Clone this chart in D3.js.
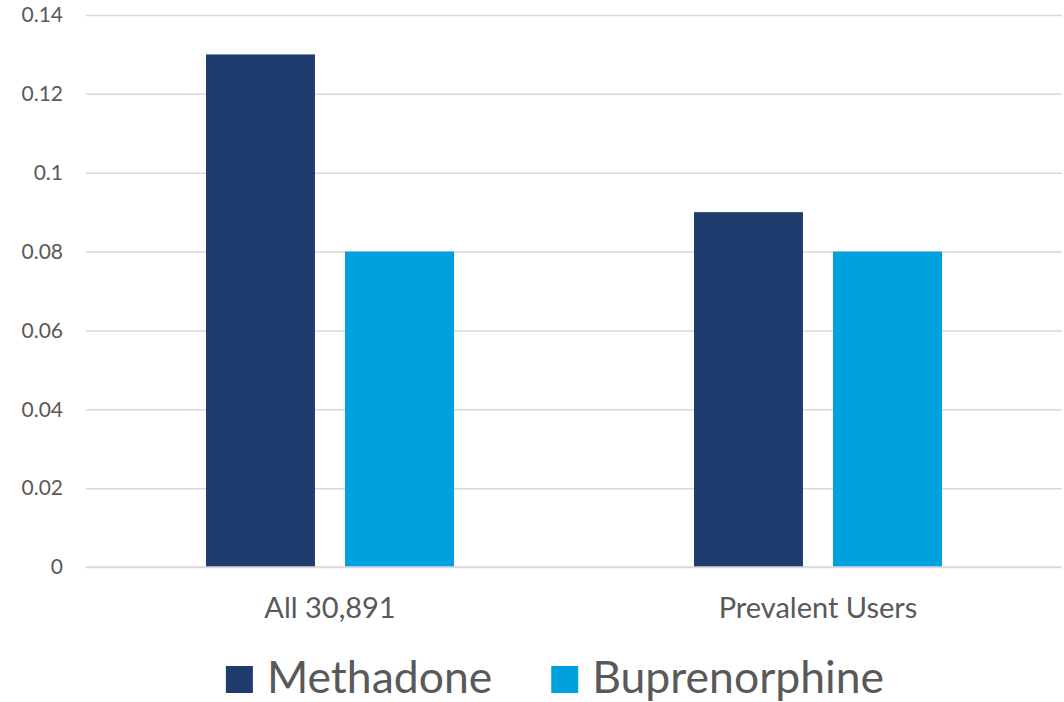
<!DOCTYPE html>
<html>
<head>
<meta charset="utf-8">
<script src="https://cdn.jsdelivr.net/npm/d3@7"></script>
<style>
  html, body { margin: 0; padding: 0; background: #fff; }
  svg { display: block; font-family: Lato, "Open Sans", sans-serif; }
</style>
</head>
<body>
<svg id="chart" width="1064" height="702"></svg>
<script>
// Chart data
const categories = ["All 30,891", "Prevalent Users"];
const seriesNames = ["Methadone", "Buprenorphine"];
const methadone = [0.13, 0.09];
const buprenorphine = [0.08, 0.08];
const yTicks = [0, 0.02, 0.04, 0.06, 0.08, 0.1, 0.12, 0.14];
const colors = ["#1e3d6e", "#00a1df"];

const seriesValues = [methadone, buprenorphine];
const rows = categories.map((c, i) => ({
  category: c,
  values: seriesNames.map((s, j) => ({ series: s, value: seriesValues[j][i], color: colors[j] }))
}));

const svg = d3.select("#chart");
const plot = { left: 86, right: 1062, top: 15, bottom: 567 };

const x = d3.scaleBand().domain(categories).range([plot.left, plot.right]).padding(0);
const xInner = d3.scaleBand().domain(seriesNames)
  .range([0, x.bandwidth()]).paddingInner(0.216).paddingOuter(0.863);
const y = d3.scaleLinear().domain([0, 0.14]).range([plot.bottom, plot.top]);

// Horizontal gridlines and value labels
const yAxis = d3.axisLeft(y).tickValues(yTicks)
  .tickSize(-(plot.right - plot.left))
  .tickPadding(23)
  .tickFormat(d => d === 0 ? "0" : String(+d.toFixed(2)));
const gy = svg.append("g").attr("transform", `translate(${plot.left},0)`).call(yAxis)
  .attr("font-family", null);
gy.select(".domain").remove();
gy.selectAll(".tick line").attr("stroke", "#d9d9d9").attr("stroke-width", 1.5);
gy.selectAll(".tick text").attr("fill", "#595959").attr("font-size", 21);

// Bars
const groups = svg.append("g").selectAll("g").data(rows).join("g")
  .attr("transform", d => `translate(${x(d.category)},0)`);
groups.selectAll("rect").data(d => d.values).join("rect")
  .attr("x", d => xInner(d.series))
  .attr("width", xInner.bandwidth())
  .attr("y", d => y(d.value))
  .attr("height", d => y(0) - y(d.value))
  .attr("fill", d => d.color);

// Baseline redrawn on top of the bars
svg.append("line")
  .attr("x1", plot.left).attr("x2", plot.right)
  .attr("y1", y(0)).attr("y2", y(0))
  .attr("stroke", "#d9d9d9").attr("stroke-width", 1.5);

// Category labels
const xAxis = d3.axisBottom(x).tickSize(0).tickPadding(0);
const gx = svg.append("g").attr("transform", `translate(0,${plot.bottom})`).call(xAxis)
  .attr("font-family", null);
gx.select(".domain").remove();
gx.selectAll(".tick text")
  .attr("fill", "#595959").attr("font-size", 29)
  .attr("dy", null).attr("y", 51);

// Legend
const legend = svg.append("g");
const items = legend.selectAll("g").data(seriesNames).join("g");
items.append("rect").attr("width", 27).attr("height", 27).attr("y", 666)
  .attr("fill", (d, i) => colors[i]);
items.append("text").text(d => d).attr("x", 41).attr("y", 693)
  .attr("fill", "#595959").attr("font-size", 44.5);
const widths = [];
items.each(function () {
  widths.push(41 + this.querySelector("text").getComputedTextLength());
});
const gap = 59;
const total = d3.sum(widths) + gap * (widths.length - 1);
let start = 555 - total / 2;
items.attr("transform", (d, i) => {
  const t = `translate(${start},0)`;
  start += widths[i] + gap;
  return t;
});
</script>
</body>
</html>
